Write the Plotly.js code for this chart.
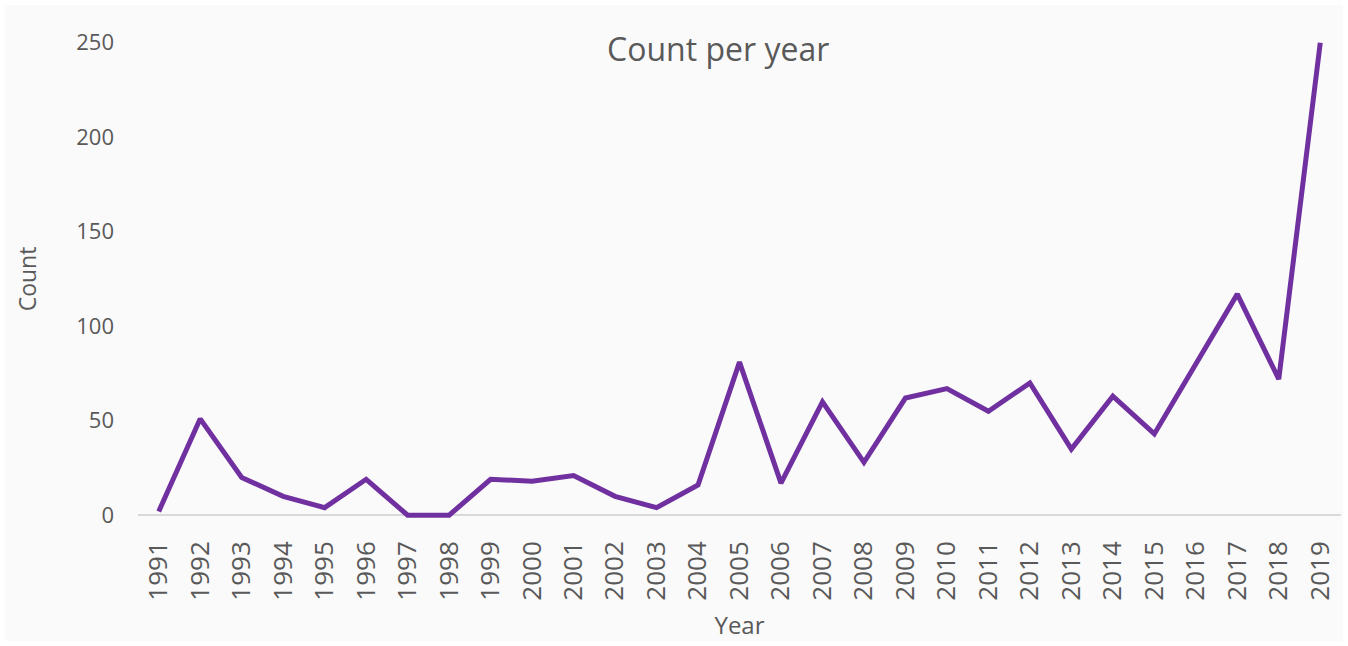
<!DOCTYPE html>
<html>
<head>
<meta charset="utf-8">
<script src="https://cdn.plot.ly/plotly-3.0.1.min.js"></script>
<style>
  html, body { margin: 0; padding: 0; background: #ffffff; }
  #chart { position: absolute; left: 5px; top: 5px; width: 1338px; height: 636px; }
</style>
</head>
<body>
<div id="chart"></div>
<script>
const years = ["1991","1992","1993","1994","1995","1996","1997","1998","1999","2000",
               "2001","2002","2003","2004","2005","2006","2007","2008","2009","2010",
               "2011","2012","2013","2014","2015","2016","2017","2018","2019"];
const counts = [2, 51, 20, 10, 4, 19, 0, 0, 19, 18,
                21, 10, 4, 16, 81, 17, 60, 28, 62, 67,
                55, 70, 35, 63, 43, 80, 117, 72, 250];
const yTicks = [0, 50, 100, 150, 200, 250];

const textColor = '#595959';
const fontFamily = '"Open Sans", "Noto Sans", sans-serif';

const trace = {
  x: years,
  y: counts,
  type: 'scatter',
  mode: 'lines',
  line: { color: '#7030A0', width: 5, shape: 'linear' },
  hoverinfo: 'x+y'
};

const layout = {
  width: 1338,
  height: 636,
  paper_bgcolor: '#fafafa',
  plot_bgcolor: '#fafafa',
  margin: { l: 133, r: 2, t: 34, b: 122, pad: 0 },
  showlegend: false,
  title: {
    text: 'Count per year',
    font: { family: fontFamily, size: 32, color: textColor },
    xref: 'container', x: 0.533, xanchor: 'center',
    yref: 'container', y: 0.929, yanchor: 'middle'
  },
  xaxis: {
    type: 'category',
    range: [-0.5, years.length - 0.5],
    tickangle: -90,
    tickfont: { family: fontFamily, size: 26, color: textColor },
    showgrid: false,
    showline: false,
    zeroline: false,
    ticks: '',
    ticklabelstandoff: 16,
    automargin: false,
    title: { text: 'Year', font: { family: fontFamily, size: 24, color: textColor }, standoff: 18 }
  },
  yaxis: {
    range: [-2, 252],
    tickvals: yTicks,
    ticktext: yTicks.map(String),
    tickfont: { family: fontFamily, size: 22, color: textColor },
    showgrid: false,
    showline: false,
    zeroline: true,
    zerolinecolor: '#d9d9d9',
    zerolinewidth: 1.5,
    ticks: '',
    ticklabelstandoff: 23,
    automargin: false,
    title: { text: 'Count', font: { family: fontFamily, size: 23, color: textColor }, standoff: 33 }
  }
};

Plotly.newPlot('chart', [trace], layout, { displayModeBar: false, staticPlot: true });
</script>
</body>
</html>
